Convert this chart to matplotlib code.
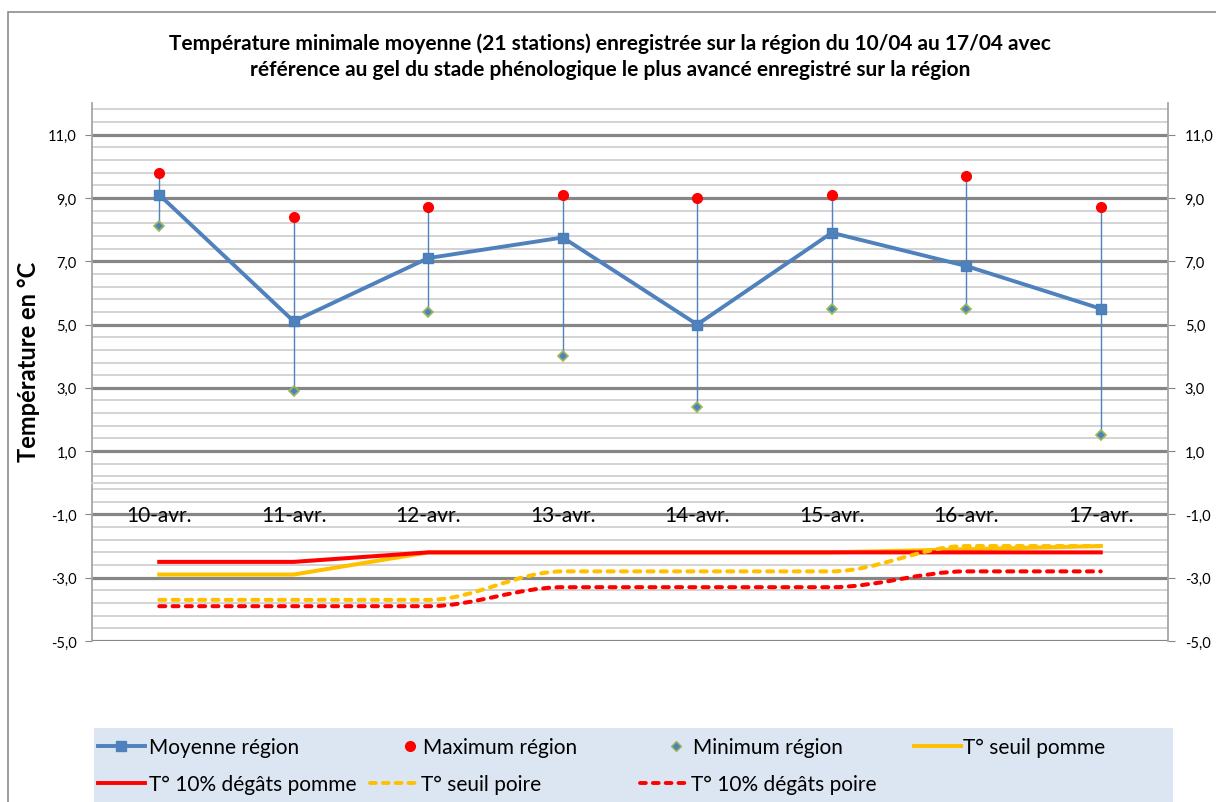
import numpy as np
import matplotlib
matplotlib.use('Agg')
import matplotlib.pyplot as plt
from matplotlib.lines import Line2D
from matplotlib.path import Path
from matplotlib.patches import PathPatch, Rectangle
from matplotlib.ticker import FuncFormatter

plt.rcParams['font.family'] = ['Lato', 'DejaVu Sans']

dates = ['10-avr.', '11-avr.', '12-avr.', '13-avr.', '14-avr.', '15-avr.', '16-avr.', '17-avr.']
moyenne = [9.1, 5.1, 7.1, 7.75, 5.0, 7.9, 6.85, 5.5]
maximum = [9.8, 8.4, 8.7, 9.1, 9.0, 9.1, 9.7, 8.7]
minimum = [8.1, 2.9, 5.4, 4.0, 2.4, 5.5, 5.5, 1.5]
seuil_pomme = [-2.9, -2.9, -2.2, -2.2, -2.2, -2.2, -2.1, -2.0]
degats_pomme = [-2.5, -2.5, -2.2, -2.2, -2.2, -2.2, -2.2, -2.2]
seuil_poire = [-3.7, -3.7, -3.7, -2.8, -2.8, -2.8, -2.0, -2.0]
degats_poire = [-3.9, -3.9, -3.9, -3.3, -3.3, -3.3, -2.8, -2.8]

blue = '#4F81BD'
red = '#FF0000'
yellow = '#FFC000'
dash = (1.5, 1.8)


def smooth_path(xs, ys):
    # smoothed line like excel, monotone cubic bezier through the points
    xs = np.asarray(xs, float)
    ys = np.asarray(ys, float)
    d = np.diff(ys) / np.diff(xs)
    m = np.zeros(len(xs))
    m[0], m[-1] = d[0], d[-1]
    for i in range(1, len(xs) - 1):
        if d[i - 1] * d[i] > 0:
            m[i] = (d[i - 1] + d[i]) / 2
    verts = [(xs[0], ys[0])]
    codes = [Path.MOVETO]
    for i in range(len(xs) - 1):
        h = xs[i + 1] - xs[i]
        verts += [(xs[i] + h / 3, ys[i] + m[i] * h / 3),
                  (xs[i + 1] - h / 3, ys[i + 1] - m[i + 1] * h / 3),
                  (xs[i + 1], ys[i + 1])]
        codes += [Path.CURVE4] * 3
    return Path(verts, codes)


def comma(v, p):
    return f'{v:.1f}'.replace('.', ',')


fig = plt.figure(figsize=(12.16, 8.03), dpi=100)
fig.patches.append(Rectangle((8 / 1216, -0.01), 1.0, 1 - 13 / 803 + 0.01, transform=fig.transFigure,
                             fill=False, edgecolor='#8C8C8C', linewidth=1.2))

ax = fig.add_axes([92 / 1216, 1 - 642 / 803, (1168 - 92) / 1216, (642 - 104) / 803])
x = np.arange(len(dates))

ax.set_xlim(-0.5, len(dates) - 0.5)
ax.set_ylim(-5, 12)
ax.set_yticks(np.arange(-5, 12, 2))
ax.set_yticks(np.arange(-5, 12.01, 0.4), minor=True)
ax.yaxis.set_major_formatter(FuncFormatter(comma))
ax.grid(axis='y', which='major', color='#868686', linewidth=2.3, zorder=0)
ax.grid(axis='y', which='minor', color='#D0D0D0', linewidth=1.3, zorder=0)
ax.set_axisbelow(True)
ax.xaxis.set_zorder(0.6)  # date labels over the gridlines
ax.tick_params(axis='y', which='major', length=5, color='#868686', labelsize=10.5, pad=6)
ax.tick_params(axis='y', which='minor', length=0)

ax.spines['top'].set_visible(False)
ax.spines['right'].set_visible(False)
ax.spines['left'].set_color('#A6A6A6')
ax.spines['left'].set_linewidth(1.3)
ax.spines['bottom'].set_position(('data', 0))
ax.spines['bottom'].set_color('#D0D0D0')
ax.spines['bottom'].set_linewidth(1.3)
ax.set_xticks(x)
ax.set_xticklabels(dates)
ax.tick_params(axis='x', length=0, labelsize=15, pad=16, labelcolor='#000000')

ax2 = ax.twinx()
ax2.set_ylim(ax.get_ylim())
ax2.set_yticks(np.arange(-5, 12, 2))
ax2.yaxis.set_major_formatter(FuncFormatter(comma))
ax2.tick_params(axis='y', length=5, color='#868686', labelsize=10.5, pad=7)
for s in ['top', 'left', 'bottom']:
    ax2.spines[s].set_visible(False)
ax2.spines['right'].set_color('#A6A6A6')
ax2.spines['right'].set_linewidth(1.3)

# high-low lines
ax.vlines(x, minimum, maximum, color=blue, linewidth=1.0, zorder=3)
ax.plot(x, moyenne, color=blue, linewidth=2.8, marker='s', markersize=7.5,
        markerfacecolor=blue, markeredgecolor='#4A7EBB', zorder=4)
ax.plot(x, maximum, linestyle='none', marker='o', markersize=7,
        markerfacecolor=red, markeredgecolor=red, zorder=5)
ax.plot(x, minimum, linestyle='none', marker='D', markersize=5,
        markerfacecolor=blue, markeredgecolor='#9BBB59', markeredgewidth=1.2, zorder=5)

ax.plot(x, seuil_pomme, color=yellow, linewidth=2.9, zorder=3)
ax.plot(x, degats_pomme, color=red, linewidth=2.9, zorder=3)
for vals, col in [(seuil_poire, yellow), (degats_poire, red)]:
    patch = PathPatch(smooth_path(x, vals), fill=False, edgecolor=col, linewidth=2.9,
                      linestyle=(0, dash), capstyle='round', zorder=3)
    ax.add_patch(patch)

ax.set_ylabel('Température en °C', fontsize=17, fontweight='bold')
ax.yaxis.set_label_coords(-52 / 1076, 0.52)

fig.text(610 / 1216, 1 - 57 / 803,
         'Température minimale moyenne (21 stations) enregistrée sur la région du 10/04 au 17/04 avec\n'
         'référence au gel du stade phénologique le plus avancé enregistré sur la région',
         ha='center', va='center', fontsize=15, fontweight='bold', linespacing=1.38)

# legend box
fig.patches.append(Rectangle((94 / 1216, 0), (1173 - 94) / 1216, 1 - 729 / 803,
                             transform=fig.transFigure, facecolor='#DCE6F2', edgecolor='none'))

entries = [
    (Line2D([], [], color=blue, linewidth=2.8, marker='s', markersize=7.5, markerfacecolor=blue),
     'Moyenne région', 98, 748, 2.25, 0.2),
    (Line2D([], [], linestyle='none', marker='o', markersize=7, markerfacecolor=red, markeredgecolor=red),
     'Maximum région', 400, 748, 1.0, 0.1),
    (Line2D([], [], linestyle='none', marker='D', markersize=5, markerfacecolor=blue,
            markeredgecolor='#9BBB59'),
     'Minimum région', 666, 748, 1.0, 0.3),
    (Line2D([], [], color=yellow, linewidth=2.8), 'T° seuil pomme', 914, 748, 2.25, 0.12),
    (Line2D([], [], color=red, linewidth=2.8), 'T° 10% dégâts pomme', 98, 785, 2.25, 0.2),
    (Line2D([], [], color=yellow, linewidth=2.8, linestyle=(0, dash), dash_capstyle='round'),
     'T° seuil poire', 370, 785, 2.25, 0.2),
    (Line2D([], [], color=red, linewidth=2.8, linestyle=(0, dash), dash_capstyle='round'),
     'T° 10% dégâts poire', 640, 785, 2.25, 0.2),
]
for handle, label, lx, ly, hl, tp in entries:
    fig.legend([handle], [label], loc='center left', bbox_to_anchor=(lx / 1216, 1 - ly / 803),
               frameon=False, fontsize=15, handlelength=hl, handletextpad=tp,
               borderpad=0, borderaxespad=0)

fig.savefig('out.png', dpi=100)
